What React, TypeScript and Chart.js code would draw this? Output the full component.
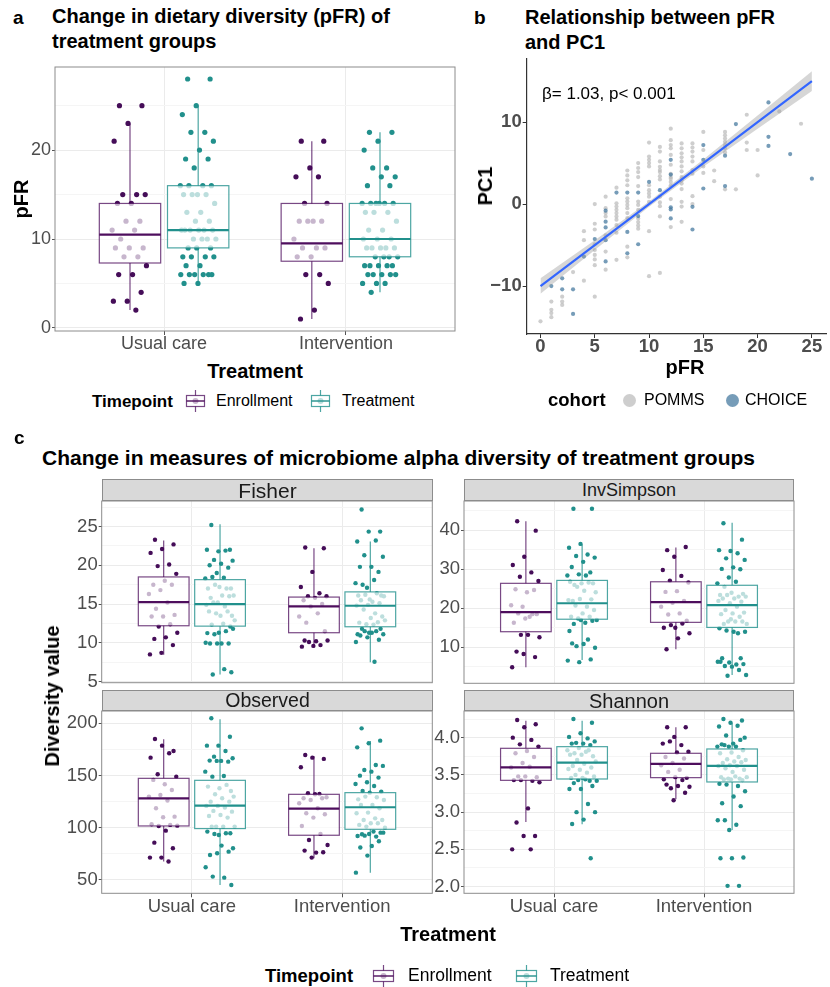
import React, { useEffect, useRef } from 'react';
import { Chart, registerables } from 'chart.js';

Chart.register(...registerables);
const FONT = "'Liberation Sans', Arial, Helvetica, sans-serif";
Chart.defaults.font.family = FONT;

// ---------------- data ----------------
const treatmentLabels = ['Usual care', 'Intervention'];
const timepointLabels = ['Enrollment', 'Treatment'];
const cohortLabels = ['POMMS', 'CHOICE'];
const facetLabels = ['Fisher', 'InvSimpson', 'Observed', 'Shannon'];

// panel a : pFR
const pfrUsualEnroll = [25, 25, 23, 21, 15, 15, 15, 14, 14, 12, 12, 11, 11, 10, 9, 9, 9, 8, 8, 7, 6, 6, 4, 3, 3, 2];
const pfrUsualTreat = [28, 28, 25, 24, 22, 22, 21, 20, 19, 19, 18, 16, 16, 16, 16, 15, 15, 15, 15, 14, 13, 13, 12, 12, 11, 11, 11, 11, 11, 11, 10, 10, 10, 10, 9, 9, 9, 8, 8, 8, 8, 7, 7, 6, 6, 6, 6, 6, 6, 5, 5];
const pfrIntEnroll = [21, 21, 18, 17, 17, 14, 14, 12, 12, 12, 12, 10, 9, 9, 9, 8, 8, 6, 6, 5, 2, 1];
const pfrIntTreat = [22, 22, 21, 20, 18, 18, 17, 17, 16, 16, 14, 14, 14, 14, 14, 14, 13, 13, 13, 12, 11, 11, 10, 10, 10, 9, 9, 9, 9, 9, 8, 8, 8, 8, 7, 7, 7, 7, 7, 6, 6, 6, 6, 6, 5, 5, 5, 4];
// box stats: [lower whisker, Q1, median, Q3, upper whisker]
const pfrBoxUsualEnroll = [2, 7.3, 10.5, 14, 23];
const pfrBoxUsualTreat = [5, 9, 11, 16, 25];
const pfrBoxIntEnroll = [1, 7.5, 9.5, 14, 21];
const pfrBoxIntTreat = [4, 8, 10, 14, 22];
const pfrMajorTicks = [0, 10, 20];
const pfrMajorLabels = ['0', '10', '20'];
const pfrMinorTicks = [5, 15, 25];

// panel b : pFR vs PC1
const pommsPoints = [
  [0, -14.3], [1, -11.9], [1, -12.9], [1, -13.3], [1, -13.8], [2, -11.3], [2, -11.9], [2, -12.3], [3, -8.3],
  [4, -3.3], [4, -4.4], [4, -9.35],
  [5, 0], [5, -2.4], [5, -3.1], [5, -4.9], [5, -5.6], [5, -6.2], [5, -6.75], [5, -7.45], [5, -11.3],
  [6, 0.9], [6, -0.5], [6, -1.1], [6, -1.5], [6, -3.8], [6, -5.8], [6, -8.0],
  [7, 2.0], [7, 0.1], [7, -0.3], [7, -0.7], [7, -1.1], [7, -1.5], [7, -1.9], [7, -2.56], [7, -3.5], [7, -6.8],
  [8, 4.1], [8, 3.5], [8, 2.9], [8, 2.3], [8, 0.7], [8, 0.3], [8, -0.1], [8, -0.5], [8, -1.1], [8, -1.7], [8, -5.2], [8, -6.5],
  [9, 5.0], [9, 4.4], [9, 3.9], [9, 3.3], [9, 2.2], [9, 0.3], [9, -0.1], [9, -0.7], [9, -1.75], [9, -2.2], [9, -2.6], [9, -3.0],
  [10, 7.5], [10, 5.8], [10, 5.4], [10, 5.0], [10, 4.6], [10, 2.3], [10, 1.7], [10, 1.3], [10, 0.9], [10, 0.28], [10, -3.3], [10, -8.8],
  [11, 6.97], [11, 6.4], [11, 5.2], [11, 4.55], [11, 4.15], [11, 3.9], [11, 3.4], [11, 3.0], [11, 0.9], [11, 0.2], [11, -0.25], [11, -1.5], [11, -8.4],
  [12, 9.2], [12, 7.8], [12, 7.2], [12, 6.8], [12, 6.0], [12, 4.8], [12, 3.7], [12, 3.3], [12, 3.1], [12, 2.7], [12, 2.3], [12, 0.61], [12, -2.8],
  [13, 7.4], [13, 6.8], [13, 6.2], [13, 5.7], [13, 5.2], [13, 4.6], [13, 4.0], [13, 3.3], [13, 2.9], [13, 2.5], [13, 1.83], [13, 0.28], [13, -0.3], [13, -2.16],
  [14, 7.4], [14, 6.9], [14, 6.4], [14, 5.8], [14, 5.2], [14, 4.15], [14, 3.7], [14, 0.97], [14, 0],
  [15, 8.8], [15, 6.6], [15, 4.6], [15, 3.8], [16, 4.1], [16, 2.8],
  [17, 8.8], [17, 8.4], [17, 8.0], [17, 7.6], [17, 7.2], [17, 6.8], [17, 6.3], [17, 1.8],
  [18, 1.8], [19, 10.9], [19, 7.5], [19, 6.6], [20, 6.6], [20, 3.5], [22, 11.3], [24, 9.8],
];
const choicePoints = [
  [1, -10], [2, -9.06], [2, -10.4], [3, -10.4], [3, -13.4], [4, -6.4], [5, -4.27],
  [6, -0.8], [6, -2.15], [6, -2.85], [6, -4.4], [6, -7.0],
  [7, 1.4], [8, 1.4], [8, -3.4], [8, -6.0], [9, 1.4], [9, -1.46], [9, -4.9],
  [10, 2.7], [11, 1.7], [12, 5.4], [12, 3.6], [12, -0.4], [12, -0.65], [12, -1.75],
  [14, -0.33], [14, -3.1], [15, 7.2], [15, 5.4], [15, 1.9], [17, 5.9], [17, 2.2], [18, 9.76],
  [21, 12.4], [21, 8.2], [21, 7.1], [23, 6.1], [25, 3.1],
];
const regX = [0, 5, 10, 15, 20, 25];
const regFit = [-10, -5, 0, 5, 10, 15];
const regSe = [0.95, 0.6, 0.32, 0.45, 0.8, 1.2];
const pc1Ticks = [-10, 0, 10];
const pc1TickLabels = ['\u221210', '0', '10'];
const pfrAxisTicks = [0, 5, 10, 15, 20, 25];

// panel c : Fisher
const fisherUsualEnroll = [23.3, 22.7, 22.1, 21.6, 20.1, 19.9, 18.9, 18.0, 17.5, 17.5, 16.8, 16.3, 15.2, 14.4, 13.6, 13.4, 13.4, 12.4, 12.1, 11.3, 10.7, 10.5, 9.7, 8.7, 8.5];
const fisherUsualTreat = [25.2, 22.0, 21.8, 22.0, 21.9, 20.7, 20.6, 20.2, 20.0, 19.7, 19.0, 18.3, 18.4, 18.5, 17.0, 17.2, 17.0, 17.0, 17.5, 16.1, 16.1, 15.8, 16.0, 15.2, 14.9, 14.7, 15.2, 13.5, 13.5, 14.05, 14.05, 13.8, 12.9, 12.45, 12.35, 12.1, 11.3, 11.25, 11.5, 11.1, 11.8, 9.9, 9.9, 9.9, 9.9, 10.0, 6.6, 5.9, 6.2];
const fisherIntEnroll = [22.3, 22.2, 19.15, 17.2, 16.4, 16.0, 16.0, 15.8, 15.5, 15.0, 14.7, 13.4, 13.8, 12.6, 11.5, 9.6, 9.5, 9.7, 10.1, 10.3, 10.2, 10.3];
const fisherIntTreat = [27.2, 24.35, 24.35, 23.07, 23.2, 21.3, 21.1, 19.8, 19.8, 19.15, 17.1, 17.7, 18.1, 17.5, 16.1, 15.6, 16.1, 16.4, 16.2, 16.0, 15.3, 15.5, 15.1, 14.9, 14.8, 13.8, 14.3, 13.4, 13.2, 12.6, 12.65, 12.4, 12.9, 12.35, 11.8, 11.8, 11.3, 11.1, 11.5, 11.5, 11.1, 11.3, 10.95, 10.4, 10.7, 10.1, 7.55];
const fisherBoxUsualEnroll = [8.45, 12.2, 15.25, 18.5, 23.2];
const fisherBoxUsualTreat = [5.9, 12.15, 15.0, 18.15, 25.3];
const fisherBoxIntEnroll = [9.47, 11.3, 14.7, 15.9, 22.2];
const fisherBoxIntTreat = [7.5, 12.07, 14.78, 16.57, 23.07];
const fisherMajorTicks = [5, 10, 15, 20, 25];
const fisherMajorLabels = ['5', '10', '15', '20', '25'];
const fisherMinorTicks = [7.5, 12.5, 17.5, 22.5, 27.5];

// InvSimpson
const invUsualEnroll = [42.3, 39.9, 33.2, 31.1, 29.2, 28.1, 27.0, 24.1, 24.9, 24.7, 20.4, 20.8, 17.85, 18.7, 18.5, 17.4, 16.3, 18.5, 13.2, 12.6, 13.2, 8.9, 7.5, 8.3, 4.9];
const invUsualTreat = [45.5, 45.5, 36.5, 35.5, 33.8, 33.4, 33.0, 31.9, 30.6, 29.2, 28.7, 28.4, 28.4, 26.0, 26.4, 26.4, 26.8, 26.6, 25.5, 24.1, 24.5, 21.9, 22.3, 22.4, 22.1, 20.4, 20.7, 19.55, 18.7, 17.85, 17.85, 17.4, 17.0, 16.3, 16.0, 16.8, 17.0, 14.2, 12.0, 10.3, 9.9, 10.85, 11.0, 6.9, 6.2, 6.6];
const invIntEnroll = [34.9, 35.7, 33.2, 29.8, 28.3, 27.1, 26.6, 24.4, 24.2, 21.9, 21.4, 20.4, 18.7, 18.4, 16.8, 15.0, 15.0, 16.1, 15.7, 13.6, 12.3, 9.5];
const invIntTreat = [41.8, 37.6, 34.7, 34.9, 34.1, 32.8, 32.4, 30.5, 30.1, 30.0, 27.9, 26.4, 26.8, 25.5, 23.7, 24.0, 23.4, 23.0, 23.4, 23.0, 22.5, 22.5, 21.7, 21.3, 21.9, 20.4, 19.55, 18.9, 18.7, 18.5, 17.85, 16.6, 16.0, 16.6, 16.0, 16.6, 17.2, 14.9, 13.6, 14.3, 14.0, 14.0, 7.2, 7.2, 6.1, 6.3, 5.6, 5.2, 5.7, 5.05, 6.3, 4.2, 2.7, 2.9];
const invBoxUsualEnroll = [4.9, 14.0, 19.0, 26.4, 42.3];
const invBoxUsualTreat = [6.76, 17.2, 21.3, 27.15, 36.4];
const invBoxIntEnroll = [9.5, 16.4, 21.6, 26.8, 35.6];
const invBoxIntTreat = [2.9, 15.1, 20.8, 25.9, 41.9];
const invMajorTicks = [10, 20, 30, 40];
const invMajorLabels = ['10', '20', '30', '40'];
const invMinorTicks = [5, 15, 25, 35, 45];

// Observed
const obsUsualEnroll = [185, 173.5, 178.6, 167.1, 171.3, 151.2, 148.9, 141.6, 145.8, 136.2, 131.4, 129.8, 126.0, 118.6, 110.6, 110, 103.3, 102.7, 101.7, 102, 97.2, 85.7, 80.3, 71.4, 71.4, 67.6];
const obsUsualTreat = [204.8, 187.2, 178.6, 178.6, 173.5, 168.1, 166.5, 164.0, 164.3, 163.3, 164.0, 153.7, 149.6, 148.9, 135.2, 137.8, 139.4, 141, 132, 129.8, 128.2, 125.0, 125, 120.9, 120.9, 119.3, 116.1, 115.4, 112.2, 111.3, 109.7, 101.1, 101.1, 101, 101, 94.7, 93.1, 96.3, 94.7, 94, 80.3, 82.9, 73.9, 77.1, 75.5, 62.1, 52.2, 53.2, 45.2];
const obsIntEnroll = [169.7, 165.9, 167.1, 157.9, 132.3, 133, 129.2, 132, 128.2, 128.2, 126.6, 123.4, 118.6, 113.8, 112.9, 109.7, 101.7, 94.1, 88.3, 83.5, 76.2, 78.1, 76.5, 71.4];
const obsIntTreat = [195.2, 183.4, 180.9, 177, 160.1, 155.3, 159.2, 153.7, 149.9, 148, 143.5, 141.9, 140, 135.2, 134.6, 133.6, 127.2, 129.2, 129.8, 126.6, 121.8, 121.8, 118.6, 114.5, 113.8, 109, 107.4, 107.4, 104.3, 102.7, 104.3, 101.1, 100.1, 96.3, 93.7, 95.3, 94, 92.1, 91.5, 92.4, 95.3, 82.5, 81.0, 87.0, 73.3, 57.0];
const obsBoxUsualEnroll = [67.6, 101.7, 128.2, 147.3, 184.7];
const obsBoxUsualTreat = [45.2, 99.2, 121.2, 145.4, 203.8];
const obsBoxIntEnroll = [70.7, 92.8, 118.3, 132.0, 168.7];
const obsBoxIntTreat = [57.0, 98.5, 119.6, 133.6, 183.1];
const obsMajorTicks = [50, 100, 150, 200];
const obsMajorLabels = ['50', '100', '150', '200'];
const obsMinorTicks = [75, 125, 175];

// Shannon
const shanUsualEnroll = [4.237, 4.18, 4.14, 4.0, 3.97, 3.91, 3.88, 3.82, 3.79, 3.74, 3.66, 3.60, 3.61, 3.48, 3.47, 3.48, 3.43, 3.42, 3.43, 3.40, 3.05, 2.86, 2.68, 2.68, 2.50, 2.50];
const shanUsualTreat = [4.25, 4.2, 4.06, 4.01, 3.99, 3.93, 3.95, 3.92, 3.92, 3.9, 3.86, 3.83, 3.81, 3.79, 3.75, 3.77, 3.77, 3.83, 3.70, 3.68, 3.65, 3.62, 3.60, 3.57, 3.58, 3.53, 3.50, 3.48, 3.46, 3.46, 3.42, 3.43, 3.42, 3.44, 3.39, 3.35, 3.31, 3.31, 3.11, 3.0, 3.0, 2.9, 2.84, 2.38];
const shanIntEnroll = [4.14, 4.14, 4.01, 3.92, 3.90, 3.95, 3.81, 3.80, 3.74, 3.72, 3.66, 3.63, 3.57, 3.54, 3.46, 3.47, 3.44, 3.43, 3.32, 3.34, 3.35, 3.37, 3.26, 3.16];
const shanIntTreat = [4.25, 4.23, 4.2, 4.15, 4.16, 4.03, 4.0, 3.92, 3.91, 3.97, 3.88, 3.88, 3.88, 3.90, 3.83, 3.80, 3.79, 3.74, 3.71, 3.70, 3.68, 3.66, 3.67, 3.63, 3.62, 3.62, 3.59, 3.57, 3.54, 3.47, 3.45, 3.45, 3.47, 3.48, 3.44, 3.43, 3.44, 3.38, 3.35, 3.37, 3.28, 3.21, 3.12, 3.08, 2.76, 2.89, 2.83, 2.89, 2.39, 2.38, 2.38, 2.01, 2.01];
const shanBoxUsualEnroll = [2.868, 3.427, 3.60, 3.857, 4.228];
const shanBoxUsualTreat = [2.837, 3.445, 3.664, 3.879, 4.228];
const shanBoxIntEnroll = [3.172, 3.463, 3.647, 3.79, 4.14];
const shanBoxIntTreat = [2.76, 3.405, 3.62, 3.848, 4.2];
const shanMajorTicks = [2.0, 2.5, 3.0, 3.5, 4.0];
const shanMajorLabels = ['2.0', '2.5', '3.0', '3.5', '4.0'];
const shanMinorTicks = [2.25, 2.75, 3.25, 3.75, 4.25];

// ---------------- styling ----------------
const ENR = { point: '#450d58', line: 'rgba(68,1,84,0.72)', median: 'rgba(68,1,84,0.95)', light: '#c8b5cd' };
const TRT = { point: '#21908c', line: 'rgba(33,144,140,0.8)', median: 'rgba(33,144,140,1)', light: '#bcdedc' };
const POMMS_COL = 'rgba(187,187,187,0.72)';
const CHOICE_COL = 'rgba(65,118,156,0.72)';
const BOX_OFFSET = 0.1875;
const BOX_WIDTH = 0.3375;
const JITTER = 0.2;

function jitter(i: number) {
  const f = (i * 0.6180339887 + 0.21) % 1;
  return (f - 0.5) * JITTER;
}

type BoxGroup = { values: number[]; stats: number[]; cat: number; tp: number };

function makeBoxPlugin(groups: BoxGroup[]) {
  return {
    id: 'boxes',
    afterDatasetsDraw(chart: any) {
      const { ctx, chartArea: a, scales } = chart;
      const xs = scales.x;
      const ys = scales.y;
      ctx.save();
      ctx.beginPath();
      ctx.rect(a.left, a.top, a.right - a.left, a.bottom - a.top);
      ctx.clip();
      groups.forEach((g) => {
        const pal = g.tp === 0 ? ENR : TRT;
        const cx = g.cat + (g.tp === 0 ? -BOX_OFFSET : BOX_OFFSET);
        const xl = xs.getPixelForValue(cx - BOX_WIDTH / 2);
        const xr = xs.getPixelForValue(cx + BOX_WIDTH / 2);
        const xc = xs.getPixelForValue(cx);
        const [lo, q1, md, q3, hi] = g.stats.map((v) => ys.getPixelForValue(v));
        ctx.fillStyle = 'rgba(255,255,255,0.7)';
        ctx.fillRect(xl, q3, xr - xl, q1 - q3);
        ctx.strokeStyle = pal.line;
        ctx.lineWidth = 1.2;
        ctx.beginPath();
        ctx.moveTo(xc, q3);
        ctx.lineTo(xc, hi);
        ctx.moveTo(xc, q1);
        ctx.lineTo(xc, lo);
        ctx.stroke();
        ctx.strokeRect(xl, q3, xr - xl, q1 - q3);
        ctx.strokeStyle = pal.median;
        ctx.lineWidth = 2.2;
        ctx.beginPath();
        ctx.moveTo(xl, md);
        ctx.lineTo(xr, md);
        ctx.stroke();
      });
      ctx.restore();
      ctx.save();
      ctx.strokeStyle = '#8c8c8c';
      ctx.lineWidth = 1;
      ctx.strokeRect(a.left, a.top, a.right - a.left, a.bottom - a.top);
      ctx.restore();
    },
  };
}

type Pad = { left: number; top: number; right: number; bottom: number };

function boxConfig(p: {
  groups: BoxGroup[]; yMin: number; yMax: number; majors: number[]; labels: string[]; minors: number[];
  pad: Pad; yWidth: number; xHeight: number; showX: boolean; r: number; tickSize: number;
}) {
  const datasets = p.groups.map((g) => ({
    data: g.values.map((v, i) => ({ x: g.cat + (g.tp === 0 ? -BOX_OFFSET : BOX_OFFSET) + jitter(i), y: v })),
    backgroundColor: (g.tp === 0 ? ENR : TRT).point,
    borderWidth: 0,
    pointRadius: p.r,
    pointHoverRadius: p.r,
  }));
  const yTicks = [...p.majors, ...p.minors].sort((a, b) => a - b);
  const isMajor = (v: number) => p.majors.indexOf(v) >= 0;
  return {
    type: 'scatter',
    data: { datasets },
    options: {
      animation: false,
      responsive: false,
      events: [],
      layout: { padding: p.pad },
      plugins: { legend: { display: false }, tooltip: { enabled: false } },
      scales: {
        x: {
          type: 'linear', min: 0.4, max: 2.6,
          afterBuildTicks: (s: any) => { s.ticks = [1, 2].map((value) => ({ value })); },
          afterFit: (s: any) => { s.height = p.xHeight; s.paddingLeft = 0; s.paddingRight = 0; },
          ticks: {
            display: p.showX, autoSkip: false, maxRotation: 0, minRotation: 0, padding: 0,
            color: '#4d4d4d', font: { size: p.tickSize, lineHeight: 1 },
            callback: (v: number) => treatmentLabels[Math.round(v) - 1],
          },
          grid: { color: '#ebebeb', lineWidth: 1, drawTicks: p.showX, tickLength: 4, tickColor: '#555' },
          border: { display: false },
        },
        y: {
          type: 'linear', min: p.yMin, max: p.yMax,
          afterBuildTicks: (s: any) => { s.ticks = yTicks.map((value) => ({ value })); },
          afterFit: (s: any) => { s.width = p.yWidth; s.paddingTop = 0; s.paddingBottom = 0; },
          ticks: {
            autoSkip: false, padding: 1, color: '#4d4d4d', font: { size: p.tickSize },
            callback: (v: number) => { const k = p.majors.indexOf(v); return k >= 0 ? p.labels[k] : ''; },
          },
          grid: {
            color: (c: any) => (c.tick && isMajor(c.tick.value) ? '#ebebeb' : '#f5f5f5'),
            lineWidth: 1, tickLength: 3,
            tickColor: (c: any) => (c.tick && isMajor(c.tick.value) ? '#555' : 'rgba(0,0,0,0)'),
          },
          border: { display: false },
        },
      },
    },
    plugins: [makeBoxPlugin(p.groups)],
  };
}

function scatterConfig() {
  const upper = regX.map((x, i) => ({ x, y: regFit[i] + regSe[i] }));
  const lower = regX.map((x, i) => ({ x, y: regFit[i] - regSe[i] }));
  const bold = { size: 18.5, weight: 'bold' as const };
  return {
    type: 'scatter',
    data: {
      datasets: [
        { type: 'line', data: regX.map((x, i) => ({ x, y: regFit[i] })), borderColor: '#3366ff', borderWidth: 2.2, pointRadius: 0, fill: false },
        { type: 'line', data: upper, borderColor: 'rgba(0,0,0,0)', borderWidth: 0, pointRadius: 0, fill: '+1', backgroundColor: 'rgba(153,153,153,0.4)' },
        { type: 'line', data: lower, borderColor: 'rgba(0,0,0,0)', borderWidth: 0, pointRadius: 0, fill: false },
        { label: cohortLabels[1], data: choicePoints.map(([x, y]) => ({ x, y })), backgroundColor: CHOICE_COL, borderWidth: 0, pointRadius: 2.1 },
        { label: cohortLabels[0], data: pommsPoints.map(([x, y]) => ({ x, y })), backgroundColor: POMMS_COL, borderWidth: 0, pointRadius: 2.1 },
      ],
    },
    options: {
      animation: false,
      responsive: false,
      events: [],
      layout: { padding: { left: 0, top: 9, right: 0, bottom: 0 } },
      plugins: { legend: { display: false }, tooltip: { enabled: false } },
      scales: {
        x: {
          type: 'linear', min: -1.27, max: 26.3,
          afterBuildTicks: (s: any) => { s.ticks = pfrAxisTicks.map((value) => ({ value })); },
          afterFit: (s: any) => { s.height = 26; s.paddingLeft = 0; s.paddingRight = 0; },
          ticks: { autoSkip: false, maxRotation: 0, padding: 0, color: '#4d4d4d', font: { ...bold, lineHeight: 1 } },
          grid: { drawOnChartArea: false, tickLength: 4, tickColor: '#333' },
          border: { display: true, color: '#333', width: 1.2 },
        },
        y: {
          type: 'linear', min: -15.85, max: 17.7,
          afterBuildTicks: (s: any) => { s.ticks = pc1Ticks.map((value) => ({ value })); },
          afterFit: (s: any) => { s.width = 61.7; s.paddingTop = 0; s.paddingBottom = 0; },
          ticks: {
            autoSkip: false, padding: 1, color: '#4d4d4d', font: bold,
            callback: (v: number) => pc1TickLabels[pc1Ticks.indexOf(v)],
          },
          grid: { drawOnChartArea: false, tickLength: 4, tickColor: '#333' },
          border: { display: true, color: '#333', width: 1.2 },
        },
      },
    },
  };
}

// ---------------- components ----------------
function ChartBox({ left, top, width, height, build }: { left: number; top: number; width: number; height: number; build: () => any }) {
  const ref = useRef<HTMLCanvasElement>(null);
  useEffect(() => {
    const chart = new Chart(ref.current as HTMLCanvasElement, build());
    return () => chart.destroy();
  }, []);
  return <canvas ref={ref} width={width} height={height} style={{ position: 'absolute', left, top, width, height }} />;
}

function Txt({ x, y, size, bold, anchor, rotate, color, children }: any) {
  const tx = anchor === 'middle' ? '-50%' : anchor === 'end' ? '-100%' : '0';
  return (
    <div
      style={{
        position: 'absolute', left: x, top: y, fontSize: size, fontWeight: bold ? 700 : 400,
        color: color || '#000', lineHeight: 1, whiteSpace: 'nowrap',
        transform: `translate(${tx}, -50%)${rotate ? ` rotate(${rotate}deg)` : ''}`,
      }}
    >
      {children}
    </div>
  );
}

function BoxKey({ x, y, pal, w = 21 }: any) {
  const c = w / 2;
  return (
    <svg style={{ position: 'absolute', left: x, top: y - 11 }} width={w} height={22}>
      <line x1={c} y1={0} x2={c} y2={22} stroke={pal.line} strokeWidth={1.2} />
      <rect x={1.5} y={5.5} width={w - 3} height={11} fill="#fff" stroke={pal.line} strokeWidth={1.2} />
      <circle cx={c} cy={11} r={3} fill={pal.light} />
      <line x1={1.5} y1={11} x2={w - 1.5} y2={11} stroke={pal.median} strokeWidth={1.4} />
    </svg>
  );
}

function Strip({ x, y, w, h, label, size }: any) {
  return (
    <div
      style={{
        position: 'absolute', left: x, top: y, width: w, height: h, boxSizing: 'border-box',
        background: '#d9d9d9', border: '1px solid #8c8c8c', display: 'flex', alignItems: 'center',
        justifyContent: 'center', fontSize: size, color: '#1a1a1a', lineHeight: 1,
      }}
    >
      {label}
    </div>
  );
}

const groupsOf = (a: number[], b: number[], c: number[], d: number[], sa: number[], sb: number[], sc: number[], sd: number[]): BoxGroup[] => [
  { values: a, stats: sa, cat: 1, tp: 0 },
  { values: b, stats: sb, cat: 1, tp: 1 },
  { values: c, stats: sc, cat: 2, tp: 0 },
  { values: d, stats: sd, cat: 2, tp: 1 },
];

export default function App() {
  return (
    <div style={{ position: 'absolute', left: 0, top: 0, width: 830, height: 987, background: '#fff', fontFamily: FONT, color: '#000', overflow: 'hidden' }}>
      {/* ---------- panel a ---------- */}
      <Txt x={13} y={17} size={19} bold>a</Txt>
      <div style={{ position: 'absolute', left: 52, top: 4, fontSize: 20, fontWeight: 700, lineHeight: '25px', whiteSpace: 'nowrap' }}>
        Change in dietary diversity (pFR) of<br />treatment groups
      </div>
      <ChartBox
        left={0} top={55} width={465} height={300}
        build={() => boxConfig({
          groups: groupsOf(pfrUsualEnroll, pfrUsualTreat, pfrIntEnroll, pfrIntTreat, pfrBoxUsualEnroll, pfrBoxUsualTreat, pfrBoxIntEnroll, pfrBoxIntTreat),
          yMin: -0.35, yMax: 29.35, majors: pfrMajorTicks, labels: pfrMajorLabels, minors: pfrMinorTicks,
          pad: { left: 0, top: 12, right: 10, bottom: 0 }, yWidth: 55, xHeight: 24, showX: true, r: 2.6, tickSize: 18,
        })}
      />
      <Txt x={21} y={199} size={20} bold anchor="middle" rotate={-90}>pFR</Txt>
      <Txt x={255} y={371} size={20} bold anchor="middle">Treatment</Txt>
      <Txt x={92} y={401} size={17} bold>Timepoint</Txt>
      <BoxKey x={185} y={401} pal={ENR} />
      <Txt x={216} y={401} size={16}>{timepointLabels[0]}</Txt>
      <BoxKey x={310} y={401} pal={TRT} />
      <Txt x={342} y={401} size={16}>{timepointLabels[1]}</Txt>

      {/* ---------- panel b ---------- */}
      <Txt x={474} y={17} size={19} bold>b</Txt>
      <div style={{ position: 'absolute', left: 525, top: 5, fontSize: 20, fontWeight: 700, lineHeight: '25px', whiteSpace: 'nowrap' }}>
        Relationship between pFR<br />and PC1
      </div>
      <ChartBox left={465} top={50} width={365} height={310} build={scatterConfig} />
      <Txt x={542} y={93} size={17}>β= 1.03, p&lt; 0.001</Txt>
      <Txt x={485} y={186} size={20} bold anchor="middle" rotate={-90}>PC1</Txt>
      <Txt x={685} y={367} size={20} bold anchor="middle">pFR</Txt>
      <Txt x={548} y={400} size={18.5} bold>cohort</Txt>
      <div style={{ position: 'absolute', left: 622.5, top: 393.5, width: 13, height: 13, borderRadius: '50%', background: POMMS_COL }} />
      <Txt x={644} y={400} size={16}>{cohortLabels[0]}</Txt>
      <div style={{ position: 'absolute', left: 725.5, top: 393.5, width: 13, height: 13, borderRadius: '50%', background: CHOICE_COL }} />
      <Txt x={745} y={400} size={16}>{cohortLabels[1]}</Txt>

      {/* ---------- panel c ---------- */}
      <Txt x={14} y={437} size={19} bold>c</Txt>
      <Txt x={42} y={457} size={21} bold>Change in measures of microbiome alpha diversity of treatment groups</Txt>
      <ChartBox
        left={0} top={495} width={440} height={205}
        build={() => boxConfig({
          groups: groupsOf(fisherUsualEnroll, fisherUsualTreat, fisherIntEnroll, fisherIntTreat, fisherBoxUsualEnroll, fisherBoxUsualTreat, fisherBoxIntEnroll, fisherBoxIntTreat),
          yMin: 4.85, yMax: 28.3, majors: fisherMajorTicks, labels: fisherMajorLabels, minors: fisherMinorTicks,
          pad: { left: 0, top: 6, right: 7.7, bottom: 17.3 }, yWidth: 101.7, xHeight: 0, showX: false, r: 2.2, tickSize: 18.5,
        })}
      />
      <ChartBox
        left={380} top={495} width={420} height={205}
        build={() => boxConfig({
          groups: groupsOf(invUsualEnroll, invUsualTreat, invIntEnroll, invIntTreat, invBoxUsualEnroll, invBoxUsualTreat, invBoxIntEnroll, invBoxIntTreat),
          yMin: 0.78, yMax: 47.5, majors: invMajorTicks, labels: invMajorLabels, minors: invMinorTicks,
          pad: { left: 0, top: 6, right: 6, bottom: 16.7 }, yWidth: 84, xHeight: 0, showX: false, r: 2.2, tickSize: 18.5,
        })}
      />
      <ChartBox
        left={0} top={705} width={440} height={225}
        build={() => boxConfig({
          groups: groupsOf(obsUsualEnroll, obsUsualTreat, obsIntEnroll, obsIntTreat, obsBoxUsualEnroll, obsBoxUsualTreat, obsBoxIntEnroll, obsBoxIntTreat),
          yMin: 37.2, yMax: 211.8, majors: obsMajorTicks, labels: obsMajorLabels, minors: obsMinorTicks,
          pad: { left: 0, top: 6, right: 7.7, bottom: 0 }, yWidth: 101.7, xHeight: 36.7, showX: true, r: 2.2, tickSize: 18.5,
        })}
      />
      <ChartBox
        left={380} top={705} width={420} height={225}
        build={() => boxConfig({
          groups: groupsOf(shanUsualEnroll, shanUsualTreat, shanIntEnroll, shanIntTreat, shanBoxUsualEnroll, shanBoxUsualTreat, shanBoxIntEnroll, shanBoxIntTreat),
          yMin: 1.91, yMax: 4.358, majors: shanMajorTicks, labels: shanMajorLabels, minors: shanMinorTicks,
          pad: { left: 0, top: 6, right: 6, bottom: 0 }, yWidth: 84, xHeight: 36.7, showX: true, r: 2.2, tickSize: 18.5,
        })}
      />
      <Strip x={102} y={479} w={331} h={22} label={facetLabels[0]} size={21} />
      <Strip x={464} y={479} w={330} h={22} label={facetLabels[1]} size={18} />
      <Strip x={102} y={690} w={331} h={21} label={facetLabels[2]} size={19.5} />
      <Strip x={464} y={690} w={330} h={21} label={facetLabels[3]} size={20} />
      <Txt x={52} y={696} size={20} bold anchor="middle" rotate={-90}>Diversity value</Txt>
      <Txt x={448} y={934} size={20} bold anchor="middle">Treatment</Txt>
      <Txt x={265} y={976} size={18.5} bold>Timepoint</Txt>
      <BoxKey x={372} y={976} pal={ENR} w={23} />
      <Txt x={408} y={976} size={17.5}>{timepointLabels[0]}</Txt>
      <BoxKey x={515} y={976} pal={TRT} w={23} />
      <Txt x={550} y={976} size={17.5}>{timepointLabels[1]}</Txt>
    </div>
  );
}
